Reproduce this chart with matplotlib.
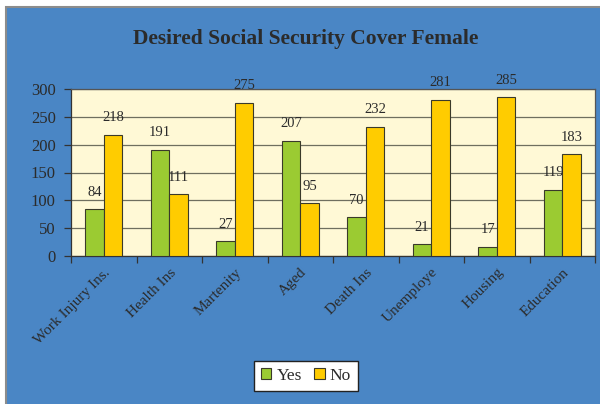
import matplotlib
matplotlib.use("Agg")
import matplotlib.pyplot as plt
import numpy as np
from matplotlib.patches import Rectangle

categories = ["Work Injury Ins.", "Health Ins", "Martenity", "Aged", "Death Ins",
              "Unemploye", "Housing", "Education"]
yes_vals = [84, 191, 27, 207, 70, 21, 17, 119]
no_vals = [218, 111, 275, 95, 232, 281, 285, 183]
y_ticks = [0, 50, 100, 150, 200, 250, 300]

BLUE = "#4a86c5"
PLOT_BG = "#fff9d6"
GREEN = "#9bcb32"
GOLD = "#ffcc00"
TEXT = "#2b2b2b"
SERIF = ["Liberation Serif", "DejaVu Serif"]

W, H = 600, 404
fig = plt.figure(figsize=(W / 100, H / 100), dpi=100)
fig.patch.set_facecolor("white")

# chart area background with grey frame
bg = fig.add_axes([0, 0, 1, 1], zorder=-5)
bg.set_axis_off()
bg.set_xlim(0, W)
bg.set_ylim(H, 0)
bg.add_patch(Rectangle((5.5, 6.5), W, H, facecolor=BLUE,
                       edgecolor="#8c8c8c", linewidth=1.5))

ax = fig.add_axes([71 / W, 1 - 256 / H, (595 - 71) / W, (256 - 89) / H], zorder=2)
ax.set_facecolor(PLOT_BG)

x = np.arange(len(categories))
bw = 0.28
ax.bar(x - bw / 2, yes_vals, bw, color=GREEN, edgecolor="#3a3a2a", linewidth=0.8,
       label="Yes", zorder=3)
ax.bar(x + bw / 2, no_vals, bw, color=GOLD, edgecolor="#3a3a2a", linewidth=0.8,
       label="No", zorder=3)

for xi, v in zip(x, yes_vals):
    ax.annotate(str(v), (xi - bw / 2, v), xytext=(0, 7.5), textcoords="offset points",
                ha="center", va="bottom", fontsize=10.5, color=TEXT, family=SERIF,
                annotation_clip=False)
for xi, v in zip(x, no_vals):
    ax.annotate(str(v), (xi + bw / 2, v), xytext=(0, 7.5), textcoords="offset points",
                ha="center", va="bottom", fontsize=10.5, color=TEXT, family=SERIF,
                annotation_clip=False)

ax.set_xlim(-0.5, len(categories) - 0.5)
ax.set_ylim(0, 300)
ax.set_yticks(y_ticks)
ax.set_yticklabels([str(t) for t in y_ticks], fontsize=12, color=TEXT, family=SERIF)
ax.yaxis.grid(True, color="#6f6f5f", linewidth=0.9, zorder=1)
ax.set_axisbelow(True)

ax.set_xticks(x)
ax.set_xticklabels(categories, rotation=45, ha="right", va="top",
                   rotation_mode="anchor", fontsize=11, color=TEXT, family=SERIF)
ax.set_xticks(np.arange(-0.5, len(categories)), minor=True)
ax.tick_params(axis="x", which="major", length=0, pad=7)
ax.tick_params(axis="x", which="minor", length=5, color="#333333", width=0.9)
ax.tick_params(axis="y", length=5, color="#333333", width=0.9, pad=6)

for s in ax.spines.values():
    s.set_color("#555555")
    s.set_linewidth(0.9)
ax.spines["left"].set_color("#333333")
ax.spines["bottom"].set_color("#333333")

fig.text(306 / W, 1 - 39 / H, "Desired Social Security Cover Female",
         ha="center", va="center", fontsize=15.5, fontweight="bold",
         color=TEXT, family=SERIF)

leg = ax.legend(loc="center", bbox_to_anchor=(306 / W, 1 - 376 / H),
                bbox_transform=fig.transFigure, ncol=2,
                frameon=True, fancybox=False, framealpha=1,
                prop={"family": SERIF, "size": 12.5},
                handlelength=0.6, handleheight=0.6, handletextpad=0.3,
                columnspacing=0.7, borderpad=0.4, borderaxespad=0)
leg.get_frame().set_edgecolor("#222222")
leg.get_frame().set_facecolor("white")
leg.get_frame().set_linewidth(1.0)
for t in leg.get_texts():
    t.set_color(TEXT)

fig.savefig("out.png", dpi=100, facecolor=fig.get_facecolor())
